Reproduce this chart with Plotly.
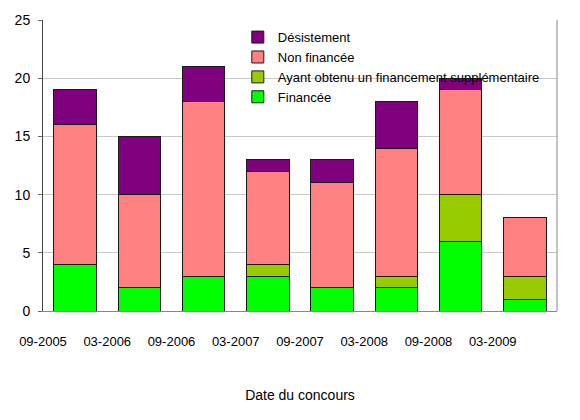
import plotly.graph_objects as go

# concours dates (labels sit between bars in the original)
dates = ['09-2005', '03-2006', '09-2006', '03-2007', '09-2007', '03-2008', '09-2008', '03-2009']

financee = [4, 2, 3, 3, 2, 2, 6, 1]
supplementaire = [0, 0, 0, 1, 0, 1, 4, 2]
non_financee = [12, 8, 15, 8, 9, 11, 9, 5]
desistement = [3, 5, 3, 1, 2, 4, 1, 0]

series = [
    ('Financée', financee, '#00FF00'),
    ('Ayant obtenu un financement supplémentaire', supplementaire, '#99CC00'),
    ('Non financée', non_financee, '#FF8080'),
    ('Désistement', desistement, '#800080'),
]

pos = list(range(len(dates)))

fig = go.Figure()
for name, vals, col in series:
    fig.add_trace(go.Bar(x=pos, y=vals, name=name,
                         marker=dict(color=col, line=dict(color='#1a1a1a', width=1))))

font = 'Liberation Sans, Arial, sans-serif'

fig.update_layout(
    barmode='stack',
    bargap=0.34,
    width=580, height=420,
    margin=dict(l=35, r=31, t=12, b=117),
    plot_bgcolor='white', paper_bgcolor='white',
    font=dict(family=font, size=13, color='black'),
    showlegend=True,
    legend=dict(traceorder='reversed', x=0.379, y=0.838, xanchor='left', yanchor='middle',
                bgcolor='rgba(0,0,0,0)', font=dict(size=13), itemwidth=30,
                tracegroupgap=0),
)

fig.update_xaxes(
    range=[-0.5, len(dates) - 0.5],
    tickvals=[p - 0.5 for p in pos], ticktext=dates,
    ticks='', ticklabelstandoff=18,
    showline=True, linecolor='#888888', linewidth=1,
    showgrid=False, zeroline=False, automargin=False,
    title=dict(text='Date du concours', standoff=42, font=dict(size=14)),
    tickfont=dict(size=13),
)
fig.update_yaxes(
    range=[0, 25], dtick=5,
    ticks='outside', ticklen=4, tickcolor='#666666', ticklabelstandoff=5,
    showline=True, linecolor='#444444', linewidth=1,
    gridcolor='#c8c8c8', zeroline=False, automargin=False,
    tickfont=dict(size=14),
)

# right-hand frame line
fig.add_shape(type='line', xref='paper', yref='paper', x0=1, x1=1, y0=0, y1=1,
              line=dict(color='#888888', width=1))

fig.write_html('out.html')
